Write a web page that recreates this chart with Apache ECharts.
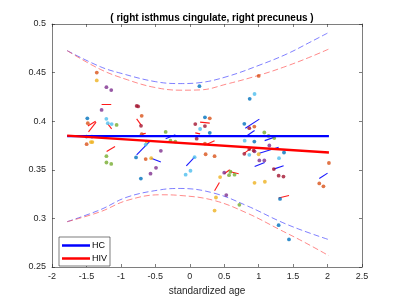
<!DOCTYPE html>
<html><head><meta charset="utf-8">
<script src="https://cdn.jsdelivr.net/npm/echarts@6/dist/echarts.min.js"></script>
<style>html,body{margin:0;padding:0;background:#fff}#c{width:399px;height:302px}</style>
</head><body><div id="c"></div>
<script>
// ---- data ----
const titleText = '( right isthmus cingulate, right precuneus )';
const xName = 'standardized age';
const legendNames = ['HC', 'HIV'];

const fitX = [-1.78, 2.02];
const hcFitY = [0.3846, 0.3846];
const hivFitY = [0.3852, 0.3678];

const hcUpper = [[-1.78,0.4726],[-1.3,0.4561],[-1.0,0.4493],[-0.5,0.4407],[-0.14,0.4387],[0.15,0.4397],[0.54,0.4459],[1.02,0.4579],[1.41,0.4692],[1.76,0.4818],[2.02,0.4914]];
const hcLower = [[-1.78,0.2966],[-1.3,0.3089],[-0.91,0.3219],[-0.43,0.3294],[-0.14,0.3308],[0.35,0.3260],[0.83,0.3130],[1.31,0.2969],[1.62,0.2880],[2.02,0.2781]];
const hivUpper = [[-1.78,0.4726],[-1.3,0.4534],[-0.9,0.4425],[-0.52,0.4349],[-0.14,0.4319],[0.15,0.4322],[0.54,0.4383],[1.02,0.4476],[1.41,0.4568],[1.76,0.4664],[2.02,0.4743]];
const hivLower = [[-1.78,0.2966],[-1.3,0.3068],[-0.91,0.3185],[-0.43,0.3243],[-0.14,0.3236],[0.35,0.3185],[0.83,0.3055],[1.31,0.2883],[1.65,0.2760],[2.02,0.2616]];

const bluePts = [[-1.487,0.403],[-1.5,0.3842],[-1.42,0.3842],[-0.78,0.3627],[-0.71,0.341],[0.14,0.436],[0.22,0.404],[0.29,0.388],[0.792,0.3973],[0.87,0.423],[0.937,0.379],[1.368,0.3678],[1.31,0.32],[1.29,0.293],[1.44,0.2784]];
const orangePts = [[-1.35,0.45],[-1.48,0.398],[-1.497,0.3764],[-0.698,0.4055],[-0.698,0.3867],[-0.64,0.361],[0.29,0.403],[0.22,0.377],[0.23,0.366],[0.36,0.364],[1.0,0.4466],[0.937,0.3945],[1.88,0.336],[1.94,0.333],[2.02,0.357]];
const yellowPts = [[-1.35,0.442],[-1.414,0.3785],[-1.435,0.3785],[-0.626,0.379],[-0.56,0.362],[0.44,0.3425],[0.38,0.3215],[0.36,0.308],[1.0,0.366],[0.94,0.3366],[1.09,0.3377]];
const purplePts = [[-1.21,0.435],[-1.14,0.432],[-1.28,0.4116],[-0.42,0.3695],[-0.57,0.346],[-0.49,0.352],[0.5,0.347],[0.53,0.324],[0.94,0.369],[1.01,0.3596],[1.082,0.3596],[1.155,0.375]];
const greenPts = [[-1.062,0.3962],[-1.21,0.364],[-1.21,0.3575],[-1.14,0.356],[-0.35,0.389],[-0.28,0.380],[-0.21,0.379],[0.57,0.3445],[0.59,0.348],[0.65,0.345],[0.72,0.314],[1.082,0.3884],[1.145,0.3849],[1.227,0.3826]];
const lightBluePts = [[-1.211,0.4024],[-1.19,0.398],[-1.134,0.397],[-0.64,0.376],[-0.06,0.345],[0.01,0.349],[0.07,0.363],[0.15,0.392],[0.797,0.380],[0.94,0.428],[0.864,0.3654],[1.295,0.362]];
const darkRedPts = [[-0.771,0.4157],[-0.75,0.4152],[-0.708,0.3952],[0.08,0.397],[0.22,0.395],[0.10,0.382],[0.864,0.3928],[0.864,0.3713],[0.927,0.3698],[0.792,0.3664],[1.22,0.3507],[1.29,0.344],[1.36,0.343]];

const hivSegs = [[-1.48,0.395,-1.367,0.4],[-1.47,0.389,-1.36,0.399],[-1.207,0.3688,-1.085,0.3739],[-1.28,0.4171,-1.14,0.4171],[-1.19,0.3973,-1.134,0.3921],[-0.771,0.4024,-0.708,0.3962],[-0.698,0.3867,-0.64,0.3875],[0.15,0.399,0.29,0.398],[0.08,0.388,0.15,0.387],[0.24,0.376,0.36,0.380],[0.36,0.3284,0.43,0.337],[0.5,0.346,0.58,0.350],[0.59,0.348,0.71,0.346],[0.792,0.3671,0.893,0.3723],[1.29,0.321,1.44,0.3236]];
const hcSegs = [[-0.771,0.3654,-0.57,0.38],[-0.56,0.362,-0.42,0.358],[-0.35,0.382,-0.21,0.386],[-0.05,0.354,0.07,0.363],[0.806,0.3928,1.01,0.4021],[0.83,0.385,0.94,0.3904],[1.087,0.380,1.232,0.3836],[1.01,0.3671,1.29,0.3733],[0.942,0.3534,1.087,0.3575],[1.217,0.3507,1.362,0.3541],[1.88,0.341,2.0,0.3466]];

const xTicks = {min: -2, max: 2.5, interval: 0.5};
const yTicks = {min: 0.25, max: 0.5, interval: 0.05};

// ---- chart ----
const axisColor = '#262626';
const font = 'Liberation Sans, Arial, sans-serif';
const chart = echarts.init(document.getElementById('c'), null, {renderer: 'canvas'});

function ptSeries(data, color) {
  return {type: 'scatter', data: data, symbol: 'circle', symbolSize: 3.8,
    itemStyle: {color: color}, z: 3, silent: true};
}
function segSeries(segs, color) {
  return {type: 'lines', coordinateSystem: 'cartesian2d', z: 3, silent: true,
    data: segs.map(s => ({coords: [[s[0], s[1]], [s[2], s[3]]]})),
    lineStyle: {color: color, width: 1.1, opacity: 0.9}};
}
function bandSeries(data, color) {
  return {type: 'line', data: data, smooth: 0.4, symbol: 'none', z: 2, silent: true,
    lineStyle: {color: color, width: 1, type: [6, 3]}};
}
const baseAxis = {
  axisLine: {show: true, onZero: false, lineStyle: {color: axisColor, width: 0.6}},
  axisTick: {show: true, inside: true, length: 3, lineStyle: {color: axisColor, width: 0.6}},
  splitLine: {show: false}
};
const yFmt = v => String(+v.toFixed(2));

chart.setOption({
  animation: false,
  backgroundColor: '#fff',
  title: {text: titleText, left: 207, top: 8, textAlign: 'center',
    textStyle: {fontFamily: font, fontSize: 10, fontWeight: 'bold', color: '#000'}},
  grid: {left: 52, right: 37, top: 24, bottom: 35},
  legend: {
    data: legendNames, orient: 'vertical', left: 59, top: 237,
    icon: 'rect', itemWidth: 28, itemHeight: 2.5, itemGap: 4,
    padding: [4, 3, 3, 3],
    borderColor: axisColor, borderWidth: 0.6, backgroundColor: '#fff',
    textStyle: {fontFamily: font, fontSize: 9, color: '#000', padding: [0, 0, 0, -3]}
  },
  xAxis: [
    Object.assign({type: 'value', position: 'bottom', min: xTicks.min, max: xTicks.max, interval: xTicks.interval,
      name: xName, nameLocation: 'middle', nameGap: 15,
      nameTextStyle: {fontFamily: font, fontSize: 10, color: axisColor},
      axisLabel: {fontFamily: font, fontSize: 9, color: axisColor, margin: 5}}, baseAxis),
    Object.assign({type: 'value', position: 'top', min: xTicks.min, max: xTicks.max, interval: xTicks.interval,
      axisLabel: {show: false}}, baseAxis)
  ],
  yAxis: [
    Object.assign({type: 'value', position: 'left', min: yTicks.min, max: yTicks.max, interval: yTicks.interval,
      axisLabel: {fontFamily: font, fontSize: 9, color: axisColor, margin: 6, formatter: yFmt}}, baseAxis),
    Object.assign({type: 'value', position: 'right', min: yTicks.min, max: yTicks.max, interval: yTicks.interval,
      axisLabel: {show: false}}, baseAxis)
  ],
  series: [
    bandSeries(hcUpper, 'rgba(60,60,255,0.65)'),
    bandSeries(hcLower, 'rgba(60,60,255,0.65)'),
    bandSeries(hivUpper, 'rgba(255,60,60,0.6)'),
    bandSeries(hivLower, 'rgba(255,60,60,0.6)'),
    segSeries(hivSegs, '#ff0000'),
    segSeries(hcSegs, '#0000ff'),
    ptSeries(bluePts, '#0072BD'),
    ptSeries(orangePts, '#D95319'),
    ptSeries(yellowPts, '#EDB120'),
    ptSeries(purplePts, '#7E2F8E'),
    ptSeries(greenPts, '#77AC30'),
    ptSeries(lightBluePts, '#4DBEEE'),
    ptSeries(darkRedPts, '#A2142F'),
    {name: 'HC', type: 'line', data: fitX.map((x, i) => [x, hcFitY[i]]), symbol: 'none', z: 4,
      itemStyle: {color: '#0000ff'}, lineStyle: {color: '#0000ff', width: 2.4}},
    {name: 'HIV', type: 'line', data: fitX.map((x, i) => [x, hivFitY[i]]), symbol: 'none', z: 4,
      itemStyle: {color: '#ff0000'}, lineStyle: {color: '#ff0000', width: 2.4}}
  ]
});
</script></body></html>
